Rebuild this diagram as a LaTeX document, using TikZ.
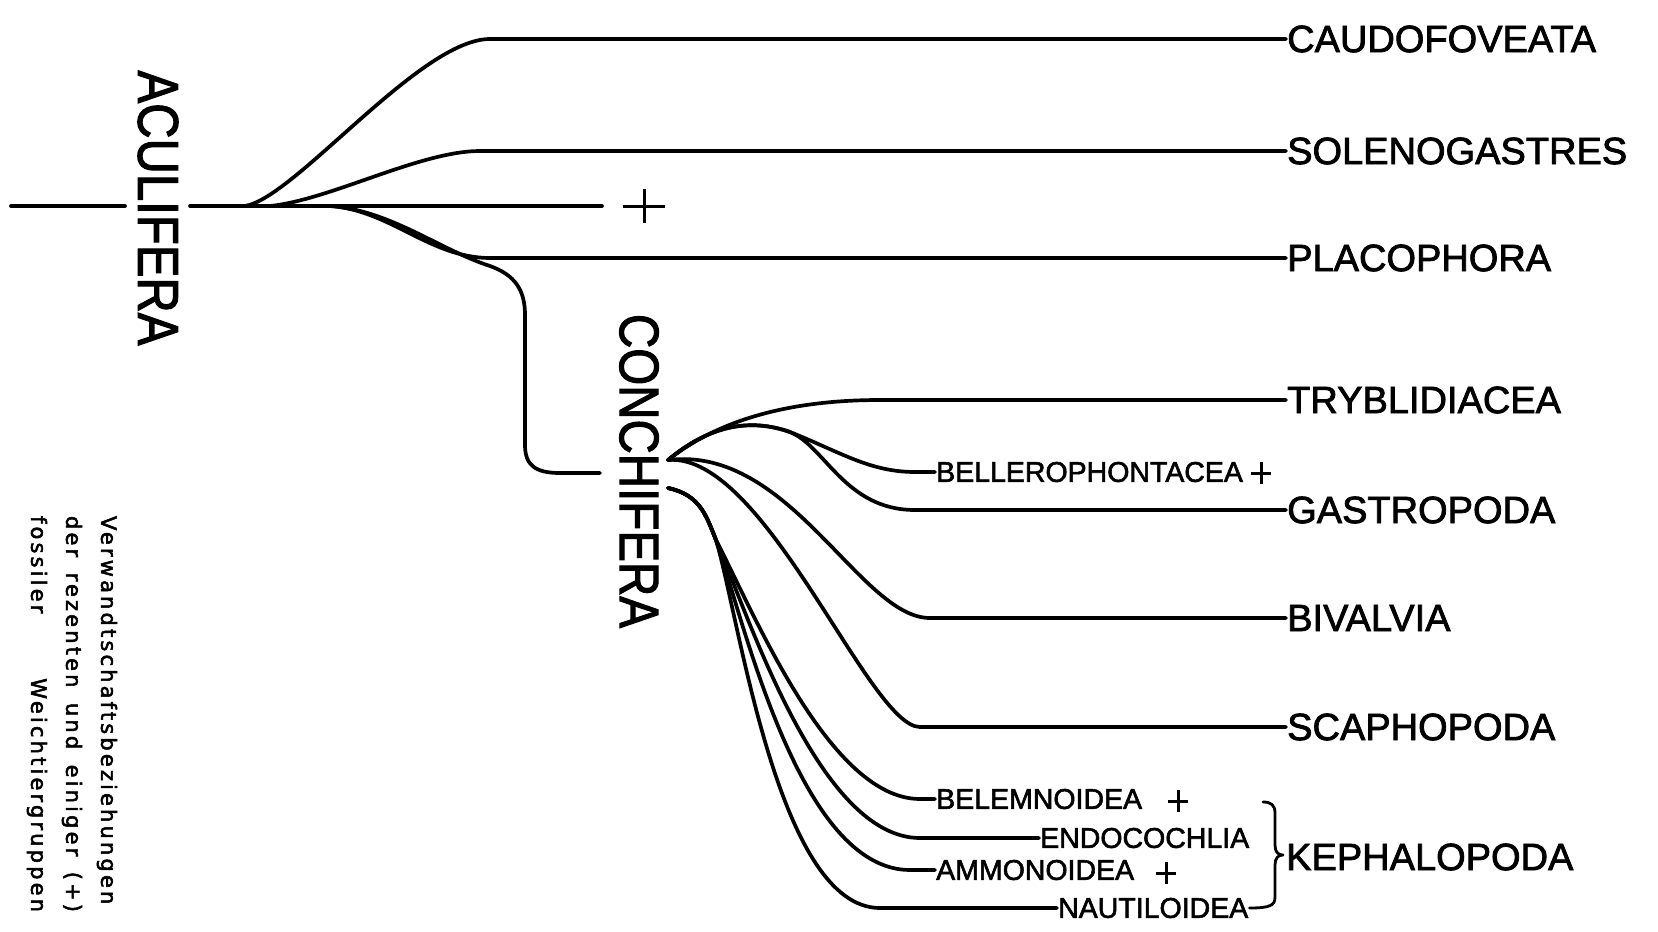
\documentclass[tikz,border=0pt]{standalone}
\usepackage{graphicx}
\usepackage{fontspec}
\setmainfont[FakeBold=2]{Liberation Sans}
\newfontfamily\capfont[LetterSpace=15,FakeBold=2.5]{DejaVu Sans}
\newcommand\plusmark[4]{\draw[plusline] (#1-#3,#2) -- (#1+#3,#2) (#1,#2-#4) -- (#1,#2+#4);}
\begin{document}
\begin{tikzpicture}[x=1pt,y=-1pt,
  br/.style={line width=3.7pt, line cap=round, line join=round},
  plusline/.style={line width=3pt},
  bracestyle/.style={line width=2.8pt, line cap=round, line join=round},
  big/.style={font=\fontsize{38}{40}\selectfont, anchor=west, inner sep=1pt},
  small/.style={font=\fontsize{28.5}{30}\selectfont, anchor=west, inner sep=1pt},
  vert/.style={rotate=-90, inner sep=0pt}]
\fill[white] (0,0) rectangle (1658,932);
\useasboundingbox (0,0) rectangle (1658,932);

% ---- labels ----
\node[vert, font=\fontsize{49}{50}\selectfont] (acul) at (158,208) {\scalebox{1}[1.17]{ACULIFERA}};
\node[vert, font=\fontsize{47.5}{50}\selectfont] (conch) at (639,471) {\scalebox{1}[1.17]{CONCHIFERA}};

\node[big] (caudo)  at (1286,39)  {CAUDOFOVEATA};
\node[big] (soleno) at (1286,151) {SOLENOGASTRES};
\node[big] (placo)  at (1286,258) {PLACOPHORA};
\node[big] (trybl)  at (1286,400) {TRYBLIDIACEA};
\node[big] (gastro) at (1286,510) {GASTROPODA};
\node[big] (biv)    at (1286,618) {BIVALVIA};
\node[big] (scaph)  at (1286,727) {SCAPHOPODA};
\node[big] (keph)   at (1285,857) {KEPHALOPODA};

\node[small] (bell)  at (935,472)  {BELLEROPHONTACEA};
\node[small] (belem) at (935,799)  {BELEMNOIDEA};
\node[small] (endo)  at (1039,838) {ENDOCOCHLIA};
\node[small] (ammo)  at (935,870)  {AMMONOIDEA};
\node[small] (nauti) at (1057,908) {NAUTILOIDEA};

\node[rotate=-90, font=\capfont\fontsize{21}{35}\selectfont, align=left, inner sep=0pt] (cap) at (72,714)
  {\makebox[396pt][s]{Verwandtschaftsbeziehungen}\\\makebox[396pt][s]{der rezenten und einiger (+)}\\\makebox[396pt][s]{fossiler Weichtiergruppen}};

% ---- coordinates ----
\coordinate (r0) at (11,206);
\coordinate (aL) at (125,206);
\coordinate (aR) at (190,206);
\coordinate (ext) at (602,206);
\coordinate (bc) at (245,206);
\coordinate (bs) at (270,206);
\coordinate (bp) at (330,206);
\coordinate (cj) at (600,473);
\coordinate (cu) at (668,460);
\coordinate (cl) at (668,488);
\coordinate (k) at (716,540);

% ---- Aculifera ----
\draw[br] (r0) -- (aL);
\draw[br] (aR) -- (ext);
\plusmark{644}{206}{21}{17}
\draw[br] (bc) .. controls (295,198) and (420,39) .. (490,39) -- (caudo.west);
\draw[br] (bs) .. controls (330,200) and (420,151) .. (480,151) -- (soleno.west);
\draw[br] (bp) .. controls (390,210) and (430,258) .. (490,258) -- (placo.west);
\draw[br] (bp) .. controls (390,210) and (440,250) .. (490,266) .. controls (515,275) and (525,290) .. (525,315)
   -- (525,445) .. controls (525,465) and (535,473) .. (560,473) -- (cj);

% ---- Conchifera upper ----
\draw[br] (cu) .. controls (700,435) and (760,400) .. (880,400) -- (trybl.west);
\draw[br] (cu) .. controls (710,425) and (750,418) .. (790,432) .. controls (840,452) and (870,472) .. (915,472) -- (bell.west);
\draw[br] (cu) .. controls (710,425) and (750,418) .. (790,432) .. controls (825,446) and (845,510) .. (915,510) -- (gastro.west);
\draw[br] (cu) .. controls (790,445) and (860,618) .. (930,618) -- (biv.west);
\draw[br] (cu) .. controls (765,452) and (869,727) .. (920,727) -- (scaph.west);

% ---- Conchifera lower ----
\draw[br] (cl) .. controls (700,495) and (706,515) .. (k) .. controls (755,615) and (830,799) .. (920,799) -- (belem.west);
\draw[br] (cl) .. controls (700,495) and (706,515) .. (k) .. controls (750,620) and (820,838) .. (920,838) -- (endo.west);
\draw[br] (cl) .. controls (700,495) and (706,515) .. (k) .. controls (745,625) and (800,870) .. (910,870) -- (ammo.west);
\draw[br] (cl) .. controls (700,495) and (706,515) .. (k) .. controls (740,620) and (778,908) .. (880,908) -- (nauti.west);

% ---- extinct marks ----
\plusmark{1261}{473}{10}{11}
\plusmark{1178}{801}{10}{11}
\plusmark{1166}{873}{10}{11}

% ---- brace ----
\draw[bracestyle] (1263,802) .. controls (1271,802) and (1275,805) .. (1275,813) -- (1275,845)
  .. controls (1275,852) and (1278,855) .. (1283,855)
  .. controls (1278,855) and (1275,858) .. (1275,865) -- (1275,897)
  .. controls (1275,905) and (1271,908) .. (nauti.east);
\end{tikzpicture}
\end{document}
